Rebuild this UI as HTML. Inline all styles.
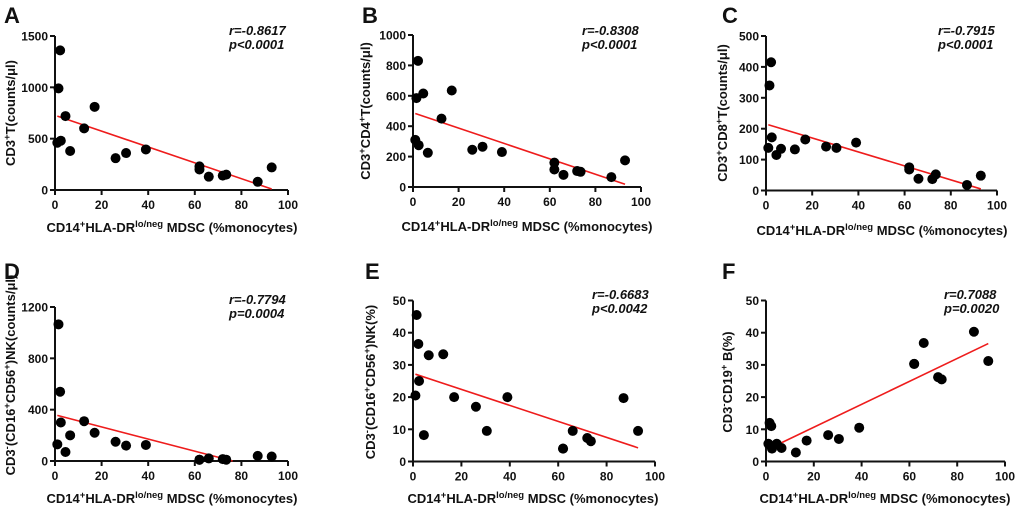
<!DOCTYPE html>
<html><head><meta charset="utf-8">
<style>
html,body{margin:0;padding:0;background:#fff;}
svg{display:block;}
text{font-family:"Liberation Sans",Arial,sans-serif;font-weight:bold;fill:#111;}
</style></head>
<body>
<svg id="fig" width="1020" height="512" viewBox="0 0 1020 512" xmlns="http://www.w3.org/2000/svg">
  <text x="4" y="23" font-size="22">A</text>
  <text x="362" y="23" font-size="22">B</text>
  <text x="722" y="23" font-size="22">C</text>
  <text x="4" y="279" font-size="22">D</text>
  <text x="365" y="279" font-size="22">E</text>
  <text x="722" y="279" font-size="22">F</text>

  <text x="229" y="35" font-size="13" font-style="italic">r=-0.8617</text>
  <text x="229" y="49" font-size="13" font-style="italic">p&lt;0.0001</text>
  <text x="582" y="35" font-size="13" font-style="italic">r=-0.8308</text>
  <text x="582" y="49" font-size="13" font-style="italic">p&lt;0.0001</text>
  <text x="938" y="35" font-size="13" font-style="italic">r=-0.7915</text>
  <text x="938" y="49" font-size="13" font-style="italic">p&lt;0.0001</text>
  <text x="229" y="304" font-size="13" font-style="italic">r=-0.7794</text>
  <text x="229" y="318" font-size="13" font-style="italic">p=0.0004</text>
  <text x="592" y="299" font-size="13" font-style="italic">r=-0.6683</text>
  <text x="592" y="313" font-size="13" font-style="italic">p&lt;0.0042</text>
  <text x="944" y="299" font-size="13" font-style="italic">r=0.7088</text>
  <text x="944" y="313" font-size="13" font-style="italic">p=0.0020</text>

  <text transform="translate(15,113) rotate(-90)" text-anchor="middle" font-size="13">CD3<tspan font-size="9.5" dy="-5">+</tspan><tspan dy="5">T(counts/μl)</tspan></text>
  <text transform="translate(370,111) rotate(-90)" text-anchor="middle" font-size="13">CD3<tspan font-size="9.5" dy="-5">+</tspan><tspan dy="5">CD4</tspan><tspan font-size="9.5" dy="-5">+</tspan><tspan dy="5">T(counts/μl)</tspan></text>
  <text transform="translate(727,113) rotate(-90)" text-anchor="middle" font-size="13">CD3<tspan font-size="9.5" dy="-5">+</tspan><tspan dy="5">CD8</tspan><tspan font-size="9.5" dy="-5">+</tspan><tspan dy="5">T(counts/μl)</tspan></text>
  <text transform="translate(15,375) rotate(-90)" text-anchor="middle" font-size="13">CD3<tspan font-size="9.5" dy="-5">-</tspan><tspan dy="5">(CD16</tspan><tspan font-size="9.5" dy="-5">+</tspan><tspan dy="5">CD56</tspan><tspan font-size="9.5" dy="-5">+</tspan><tspan dy="5">)NK(counts/μl)</tspan></text>
  <text transform="translate(375,382) rotate(-90)" text-anchor="middle" font-size="13">CD3<tspan font-size="9.5" dy="-5">-</tspan><tspan dy="5">(CD16</tspan><tspan font-size="9.5" dy="-5">+</tspan><tspan dy="5">CD56</tspan><tspan font-size="9.5" dy="-5">+</tspan><tspan dy="5">)NK(%)</tspan></text>
  <text transform="translate(732,382) rotate(-90)" text-anchor="middle" font-size="13">CD3<tspan font-size="9.5" dy="-5">-</tspan><tspan dy="5">CD19</tspan><tspan font-size="9.5" dy="-5">+</tspan><tspan dy="5"> B(%)</tspan></text>

  <text x="172" y="232" text-anchor="middle" font-size="13">CD14<tspan font-size="9.5" dy="-5">+</tspan><tspan dy="5">HLA-DR</tspan><tspan font-size="9.5" dy="-5">lo/neg</tspan><tspan dy="5"> MDSC (%monocytes)</tspan></text>
  <text x="527" y="231" text-anchor="middle" font-size="13">CD14<tspan font-size="9.5" dy="-5">+</tspan><tspan dy="5">HLA-DR</tspan><tspan font-size="9.5" dy="-5">lo/neg</tspan><tspan dy="5"> MDSC (%monocytes)</tspan></text>
  <text x="882" y="235" text-anchor="middle" font-size="13">CD14<tspan font-size="9.5" dy="-5">+</tspan><tspan dy="5">HLA-DR</tspan><tspan font-size="9.5" dy="-5">lo/neg</tspan><tspan dy="5"> MDSC (%monocytes)</tspan></text>
  <text x="172" y="503" text-anchor="middle" font-size="13">CD14<tspan font-size="9.5" dy="-5">+</tspan><tspan dy="5">HLA-DR</tspan><tspan font-size="9.5" dy="-5">lo/neg</tspan><tspan dy="5"> MDSC (%monocytes)</tspan></text>
  <text x="533" y="503" text-anchor="middle" font-size="13">CD14<tspan font-size="9.5" dy="-5">+</tspan><tspan dy="5">HLA-DR</tspan><tspan font-size="9.5" dy="-5">lo/neg</tspan><tspan dy="5"> MDSC (%monocytes)</tspan></text>
  <text x="885" y="503" text-anchor="middle" font-size="13">CD14<tspan font-size="9.5" dy="-5">+</tspan><tspan dy="5">HLA-DR</tspan><tspan font-size="9.5" dy="-5">lo/neg</tspan><tspan dy="5"> MDSC (%monocytes)</tspan></text>
</svg>
<script>
const mdscX = [1,1.5,2.2,2.5,4.5,6.5,12.5,17,26,30.5,39,62,62,66,72,73.5,87,93];
const valuesA = [460,990,1360,480,720,380,600,810,310,360,395,230,200,130,140,150,80,220];
const valuesB = [310,585,830,275,615,225,450,635,245,265,230,160,115,80,105,100,65,175];
const valuesC = [138,340,415,172,115,135,133,165,142,138,155,75,68,38,37,52,18,48];
const valuesD = [130,1065,540,300,70,200,310,220,150,120,125,10,10,20,15,10,40,35];
const valuesE = [20.5,45.5,36.5,25,8.2,33,33.3,20,17,9.5,20,4,4,9.5,7.3,6.3,19.7,9.5];
const valuesF = [5.5,12,11,4,5.5,4.2,2.8,6.5,8.2,7,10.5,30.3,30.3,36.8,26.2,25.5,40.3,31.2];
const xTicks = [0,20,40,60,80,100];
const yTicksA = [0,500,1000,1500];
const yTicksB = [0,200,400,600,800,1000];
const yTicksC = [0,100,200,300,400,500];
const yTicksD = [0,400,800,1200];
const yTicksE = [0,10,20,30,40,50];
const yTicksF = [0,10,20,30,40,50];

const NS = "http://www.w3.org/2000/svg";
const svg = document.getElementById('fig');
function mk(tag, attrs){const e=document.createElementNS(NS,tag);for(const k in attrs)e.setAttribute(k,attrs[k]);svg.appendChild(e);return e;}

const panels = [
  {id:'a', vals:valuesA, yt:yTicksA, px:[55,288], py:[190,36]},
  {id:'b', vals:valuesB, yt:yTicksB, px:[413,641], py:[187,35]},
  {id:'c', vals:valuesC, yt:yTicksC, px:[766,997], py:[190.5,36]},
  {id:'d', vals:valuesD, yt:yTicksD, px:[55,288], py:[461,307]},
  {id:'e', vals:valuesE, yt:yTicksE, px:[413,655], py:[461.5,300.5]},
  {id:'f', vals:valuesF, yt:yTicksF, px:[766,1005], py:[461.5,300.5]}
];

panels.forEach(p=>{
  const ymax = p.yt[p.yt.length-1];
  const sx = v => p.px[0] + v/100*(p.px[1]-p.px[0]);
  const sy = v => p.py[0] - v/ymax*(p.py[0]-p.py[1]);
  let e;
  e = mk('line',{x1:p.px[0],y1:p.py[0],x2:p.px[0],y2:p.py[1],stroke:'#111','stroke-width':2});
  
  
  e = mk('line',{x1:p.px[0],y1:p.py[0],x2:p.px[1],y2:p.py[0],stroke:'#111','stroke-width':2});
  
  
  p.yt.forEach(t=>{
    const y=sy(t);
    e = mk('line',{x1:p.px[0]-5,y1:y,x2:p.px[0],y2:y,stroke:'#111','stroke-width':2});
    
    
    e = mk('text',{x:p.px[0]-7,y:y+4.5,'text-anchor':'end','font-size':12});
    e.textContent=t;
    
    
  });
  xTicks.forEach(t=>{
    const x=sx(t);
    e = mk('line',{x1:x,y1:p.py[0],x2:x,y2:p.py[0]+5,stroke:'#111','stroke-width':2});
    
    
    e = mk('text',{x:x,y:p.py[0]+19,'text-anchor':'middle','font-size':12});
    e.textContent=t;
    
    
  });
  const n=mdscX.length;
  let mx=0,my=0;for(let i=0;i<n;i++){mx+=mdscX[i];my+=p.vals[i];}mx/=n;my/=n;
  let sxy=0,sxx=0;for(let i=0;i<n;i++){sxy+=(mdscX[i]-mx)*(p.vals[i]-my);sxx+=(mdscX[i]-mx)**2;}
  const b=sxy/sxx,a=my-b*mx;
  let x1=Math.min(...mdscX), x2=Math.max(...mdscX);
  if(a+b*x2<0) x2=-a/b;
  if(a+b*x1<0) x1=-a/b;
  e = mk('line',{x1:sx(x1),y1:sy(a+b*x1),x2:sx(x2),y2:sy(a+b*x2),stroke:'#ee1c1c','stroke-width':1.6});
  
  
  for(let i=0;i<n;i++){
    e = mk('circle',{cx:sx(mdscX[i]),cy:sy(p.vals[i]),r:5,fill:'#000'});
    
    
  }
});
</script>
</body></html>
